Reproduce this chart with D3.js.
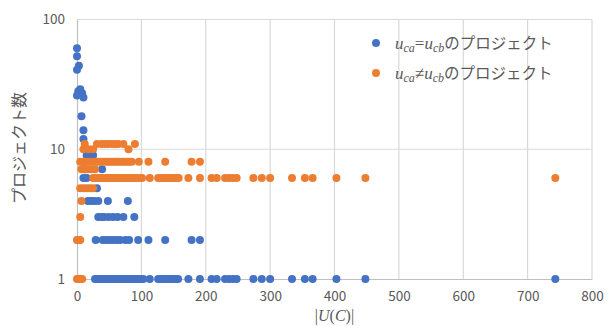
<!DOCTYPE html>
<html>
<head>
<meta charset="utf-8">
<script src="https://cdn.jsdelivr.net/npm/d3@7"></script>
<style>
  body { margin: 0; background: #fff; }
  svg { display: block; }
</style>
</head>
<body>
<div id="chart"></div>
<script>
const xTicks = [0, 100, 200, 300, 400, 500, 600, 700, 800];
const yTicks = [1, 10, 100];

// [|U(C)|, project count] for u_ca = u_cb
const sameProjects = [
  [0, 60], [0, 52], [3, 44], [0, 41], [5, 29], [2, 28], [8, 27], [0, 26], [10, 25],
  [7, 18], [10, 14], [10, 12],
  [15, 9], [20, 9], [25, 9],
  [12, 7], [39, 7],
  [10, 6], [15, 6],
  [31, 5],
  [17, 4], [22, 4], [27, 4], [33, 4], [48, 4], [79, 4],
  [33, 3], [38, 3], [42, 3], [49, 3], [56, 3], [63, 3], [72, 3], [89, 3],
  [29, 2], [40, 2], [45, 2], [51, 2], [56, 2], [62, 2], [67, 2], [75, 2], [81, 2],
  [95, 2], [111, 2], [137, 2], [178, 2], [191, 2],
  [28, 1], [31, 1], [34, 1], [37, 1], [40, 1], [43, 1], [46, 1], [49, 1], [52, 1],
  [55, 1], [58, 1], [61, 1], [64, 1], [67, 1], [70, 1], [73, 1], [76, 1], [79, 1],
  [82, 1], [85, 1], [88, 1], [91, 1], [94, 1], [97, 1], [100, 1], [103, 1], [113, 1],
  [126, 1], [130, 1], [134, 1], [138, 1], [142, 1], [146, 1], [150, 1], [154, 1], [157, 1],
  [173, 1], [191, 1], [209, 1], [217, 1], [230, 1], [236, 1], [242, 1], [248, 1],
  [274, 1], [287, 1], [300, 1], [334, 1], [354, 1], [366, 1], [403, 1], [448, 1], [743, 1]
];

// [|U(C)|, project count] for u_ca != u_cb
const diffProjects = [
  [0, 1], [2, 1], [5, 1], [8, 1],
  [0, 2], [1, 2], [3, 2], [5, 2],
  [5, 3],
  [7, 4],
  [5, 5], [10, 5], [15, 5], [20, 5], [25, 5],
  [25, 6], [29, 6], [33, 6], [37, 6], [41, 6], [45, 6], [49, 6], [53, 6], [57, 6],
  [61, 6], [65, 6], [69, 6], [73, 6], [77, 6], [81, 6], [85, 6], [89, 6], [93, 6],
  [97, 6], [101, 6], [113, 6], [126, 6], [130, 6], [134, 6], [138, 6], [142, 6],
  [146, 6], [150, 6], [154, 6], [158, 6],
  [173, 6], [191, 6], [209, 6], [217, 6], [230, 6], [236, 6], [242, 6], [248, 6],
  [274, 6], [287, 6], [300, 6], [334, 6], [354, 6], [366, 6], [403, 6], [448, 6], [743, 6],
  [7, 7], [12, 7], [17, 7], [22, 7], [28, 7],
  [5, 8], [9, 8], [13, 8], [17, 8], [21, 8], [25, 8], [29, 8], [33, 8], [37, 8],
  [41, 8], [45, 8], [49, 8], [53, 8], [57, 8], [61, 8], [65, 8], [69, 8], [73, 8],
  [77, 8], [81, 8], [85, 8], [96, 8], [111, 8], [137, 8], [178, 8], [191, 8],
  [10, 10], [18, 10], [25, 10], [80, 10],
  [12, 11], [31, 11], [38, 11], [43, 11], [48, 11], [54, 11], [59, 11], [64, 11],
  [72, 11], [90, 11]
];

const W = 612, H = 326;
const margin = { top: 19.5, right: 20, bottom: 47, left: 77 };
const width = W - margin.left - margin.right;
const height = H - margin.top - margin.bottom;

const svg = d3.select('#chart')
  .append('svg')
  .attr('width', W)
  .attr('height', H);

const g = svg.append('g')
  .attr('transform', `translate(${margin.left},${margin.top})`);

const x = d3.scaleLinear().domain([0, 800]).range([0, width]);
const y = d3.scaleLog().domain([1, 100]).range([height, 0]);

const tickFont = '"Noto Sans CJK JP", "Noto Sans", sans-serif';

// grid
g.append('g')
  .selectAll('line')
  .data(xTicks.slice(1))
  .join('line')
  .attr('x1', d => x(d)).attr('x2', d => x(d))
  .attr('y1', 0).attr('y2', height)
  .attr('stroke', '#d9d9d9').attr('stroke-width', 1.2);

g.append('g')
  .selectAll('line')
  .data(yTicks.slice(1))
  .join('line')
  .attr('x1', 0).attr('x2', width)
  .attr('y1', d => y(d)).attr('y2', d => y(d))
  .attr('stroke', '#d9d9d9').attr('stroke-width', 1.2);

// axes
const xAxis = g.append('g')
  .attr('transform', `translate(0,${height})`)
  .call(d3.axisBottom(x).tickValues(xTicks).tickSize(0).tickPadding(12));
xAxis.select('.domain').attr('stroke', '#bfbfbf').attr('stroke-width', 1.2);

const yAxis = g.append('g')
  .call(d3.axisLeft(y).tickValues(yTicks).tickSize(0).tickPadding(12).tickFormat(d3.format('d')));
yAxis.select('.domain').attr('stroke', '#bfbfbf').attr('stroke-width', 1.2);

g.selectAll('.tick text')
  .style('font-family', tickFont)
  .style('font-size', '13.5px')
  .attr('fill', '#595959');

// points
g.append('g')
  .selectAll('circle')
  .data(sameProjects)
  .join('circle')
  .attr('cx', d => x(d[0]))
  .attr('cy', d => y(d[1]))
  .attr('r', 4)
  .attr('fill', '#4472c4');

g.append('g')
  .selectAll('circle')
  .data(diffProjects)
  .join('circle')
  .attr('cx', d => x(d[0]))
  .attr('cy', d => y(d[1]))
  .attr('r', 4)
  .attr('fill', '#ed7d31');

// y label
svg.append('text')
  .attr('transform', `translate(25,148) rotate(-90)`)
  .style('text-anchor', 'middle')
  .style('font-family', tickFont)
  .style('font-size', '16px')
  .attr('fill', '#595959')
  .text('プロジェクト数');

// x label |U(C)|
const xl = svg.append('text')
  .attr('x', margin.left + width / 2)
  .attr('y', 321)
  .style('text-anchor', 'middle')
  .style('font-family', '"Liberation Serif", "DejaVu Serif", serif')
  .style('font-size', '16px')
  .attr('fill', '#595959');
xl.append('tspan').text('|');
xl.append('tspan').style('font-style', 'italic').text('U');
xl.append('tspan').text('(');
xl.append('tspan').style('font-style', 'italic').text('C');
xl.append('tspan').text(')|');

// legend
const legendItems = [
  { color: '#4472c4', op: '=', y: 43 },
  { color: '#ed7d31', op: '≠', y: 73 }
];

const legend = svg.append('g');
legendItems.forEach(item => {
  legend.append('circle')
    .attr('cx', 376).attr('cy', item.y).attr('r', 4)
    .attr('fill', item.color);
  const t = legend.append('text')
    .attr('x', 395).attr('y', item.y + 6)
    .attr('fill', '#595959')
    .style('font-family', '"Liberation Serif", serif')
    .style('font-size', '17px');
  t.append('tspan').style('font-style', 'italic').text('u');
  t.append('tspan').style('font-style', 'italic').style('font-size', '12px').attr('dy', 3).text('ca');
  t.append('tspan').attr('dy', -3).text(item.op);
  t.append('tspan').style('font-style', 'italic').text('u');
  t.append('tspan').style('font-style', 'italic').style('font-size', '12px').attr('dy', 3).text('cb');
  t.append('tspan').attr('dy', -3)
    .style('font-family', tickFont)
    .style('font-size', '15.5px')
    .text('のプロジェクト');
});
</script>
</body>
</html>
